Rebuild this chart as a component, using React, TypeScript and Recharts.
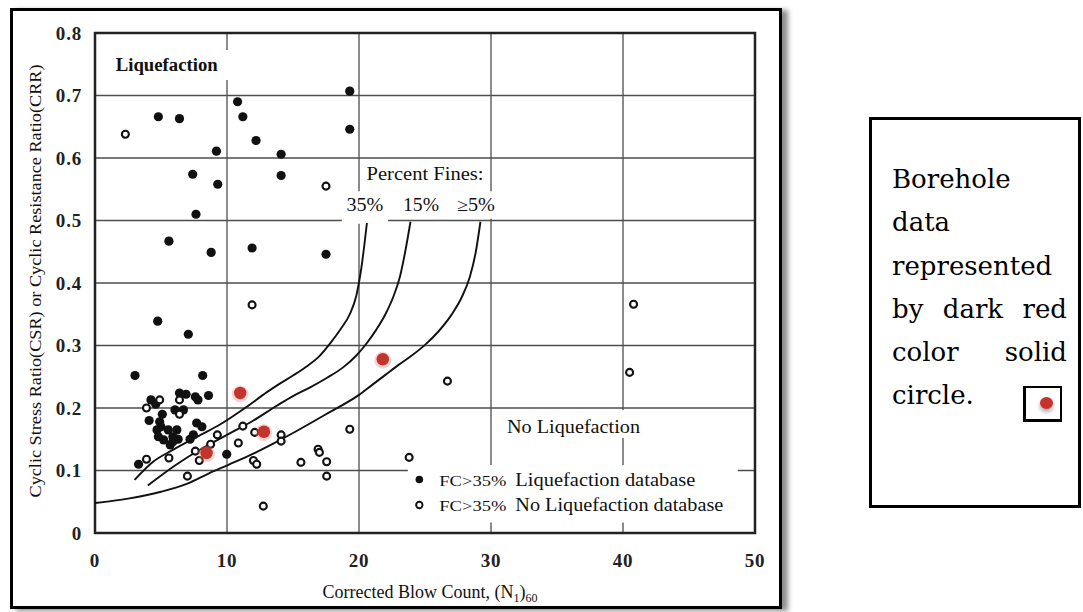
import React from "react"
import {
  ComposedChart,
  CartesianGrid,
  XAxis,
  YAxis,
  Line,
  Scatter,
  ReferenceArea,
  ReferenceDot,
} from "recharts"

// tick labels
const xTicks = [0, 10, 20, 30, 40, 50]
const yTicks = [0, 0.1, 0.2, 0.3, 0.4, 0.5, 0.6, 0.7, 0.8]

// FC>35% liquefaction database (solid black)
const liquefied = [
  { x: 4.8, y: 0.666 }, { x: 6.4, y: 0.663 }, { x: 9.2, y: 0.611 }, { x: 7.4, y: 0.574 },
  { x: 9.3, y: 0.558 }, { x: 7.65, y: 0.51 }, { x: 5.6, y: 0.467 }, { x: 8.8, y: 0.449 },
  { x: 10.8, y: 0.69 }, { x: 11.2, y: 0.666 }, { x: 12.2, y: 0.628 }, { x: 14.1, y: 0.606 },
  { x: 14.1, y: 0.572 }, { x: 11.9, y: 0.456 }, { x: 17.5, y: 0.446 }, { x: 19.3, y: 0.707 },
  { x: 19.3, y: 0.646 }, { x: 4.75, y: 0.339 }, { x: 7.07, y: 0.318 }, { x: 3.03, y: 0.252 },
  { x: 8.16, y: 0.252 }, { x: 4.24, y: 0.213 }, { x: 4.6, y: 0.206 }, { x: 6.4, y: 0.224 },
  { x: 6.9, y: 0.222 }, { x: 7.6, y: 0.218 }, { x: 8.6, y: 0.22 }, { x: 7.8, y: 0.213 },
  { x: 6.06, y: 0.197 }, { x: 6.7, y: 0.197 }, { x: 5.1, y: 0.19 }, { x: 4.1, y: 0.18 },
  { x: 4.9, y: 0.178 }, { x: 7.7, y: 0.176 }, { x: 8.1, y: 0.17 }, { x: 5.0, y: 0.17 },
  { x: 4.7, y: 0.165 }, { x: 5.55, y: 0.165 }, { x: 6.2, y: 0.165 }, { x: 7.45, y: 0.157 },
  { x: 4.8, y: 0.154 }, { x: 5.9, y: 0.154 }, { x: 5.2, y: 0.149 }, { x: 6.3, y: 0.15 },
  { x: 7.2, y: 0.15 }, { x: 5.7, y: 0.141 }, { x: 5.9, y: 0.146 }, { x: 3.3, y: 0.11 },
  { x: 9.98, y: 0.126 },
]

// FC>35% no liquefaction database (open circles)
const nonLiquefied = [
  { x: 2.3, y: 0.638 }, { x: 17.5, y: 0.555 }, { x: 11.9, y: 0.365 }, { x: 40.8, y: 0.366 },
  { x: 40.5, y: 0.257 }, { x: 26.7, y: 0.243 }, { x: 23.8, y: 0.121 }, { x: 19.3, y: 0.166 },
  { x: 14.1, y: 0.157 }, { x: 14.1, y: 0.147 }, { x: 16.9, y: 0.134 }, { x: 17.0, y: 0.129 },
  { x: 15.6, y: 0.113 }, { x: 17.55, y: 0.114 }, { x: 17.55, y: 0.091 }, { x: 12.75, y: 0.043 },
  { x: 12.0, y: 0.116 }, { x: 12.25, y: 0.11 }, { x: 12.1, y: 0.161 }, { x: 10.86, y: 0.144 },
  { x: 11.2, y: 0.171 }, { x: 9.27, y: 0.157 }, { x: 8.76, y: 0.142 }, { x: 7.9, y: 0.116 },
  { x: 7.6, y: 0.131 }, { x: 7.0, y: 0.091 }, { x: 5.6, y: 0.12 }, { x: 3.9, y: 0.118 },
  { x: 3.9, y: 0.2 }, { x: 4.9, y: 0.213 }, { x: 6.4, y: 0.213 }, { x: 6.4, y: 0.19 },
]

// borehole data (dark red)
const borehole = [
  { x: 11.0, y: 0.224 }, { x: 12.8, y: 0.162 }, { x: 8.45, y: 0.128 }, { x: 21.8, y: 0.278 },
]

// CRR curves for percent fines
const curve35 = [
  { x: 3.0, y: 0.085 }, { x: 4.4, y: 0.114 }, { x: 5.9, y: 0.133 }, { x: 8.0, y: 0.157 },
  { x: 9.5, y: 0.174 }, { x: 11.5, y: 0.202 }, { x: 13.0, y: 0.225 }, { x: 14.0, y: 0.239 },
  { x: 15.0, y: 0.252 }, { x: 16.0, y: 0.266 }, { x: 17.0, y: 0.283 }, { x: 17.8, y: 0.303 },
  { x: 18.6, y: 0.326 }, { x: 19.3, y: 0.35 }, { x: 19.8, y: 0.38 }, { x: 20.15, y: 0.42 },
  { x: 20.4, y: 0.46 }, { x: 20.6, y: 0.496 },
]
const curve15 = [
  { x: 4.0, y: 0.076 }, { x: 6.2, y: 0.11 }, { x: 8.0, y: 0.134 }, { x: 10.0, y: 0.157 },
  { x: 12.0, y: 0.18 }, { x: 13.8, y: 0.204 }, { x: 15.0, y: 0.219 }, { x: 16.3, y: 0.233 },
  { x: 17.55, y: 0.248 }, { x: 18.8, y: 0.265 }, { x: 19.8, y: 0.284 }, { x: 20.6, y: 0.304 },
  { x: 21.3, y: 0.325 }, { x: 22.0, y: 0.35 }, { x: 22.6, y: 0.378 }, { x: 23.1, y: 0.41 },
  { x: 23.5, y: 0.45 }, { x: 23.9, y: 0.498 },
]
const curve5 = [
  { x: 0, y: 0.048 }, { x: 2.5, y: 0.055 }, { x: 5.0, y: 0.066 }, { x: 7.0, y: 0.079 },
  { x: 8.6, y: 0.095 }, { x: 10.1, y: 0.109 }, { x: 12.0, y: 0.127 }, { x: 13.5, y: 0.143 },
  { x: 15.0, y: 0.16 }, { x: 17.5, y: 0.19 }, { x: 20.0, y: 0.221 }, { x: 21.0, y: 0.237 },
  { x: 22.0, y: 0.253 }, { x: 23.0, y: 0.269 }, { x: 24.0, y: 0.284 }, { x: 25.0, y: 0.301 },
  { x: 26.0, y: 0.322 }, { x: 27.0, y: 0.349 }, { x: 27.8, y: 0.378 }, { x: 28.4, y: 0.41 },
  { x: 28.85, y: 0.45 }, { x: 29.2, y: 0.498 },
]

const serif = "'Liberation Serif', 'Times New Roman', serif"

const Txt = ({ x, y, children, size = 18, w, anchor = "middle", weight = "normal" }: any) => (
  <text
    x={x}
    y={y}
    fontSize={size}
    fontFamily={serif}
    fontWeight={weight}
    fill="#111"
    textAnchor={anchor}
    dominantBaseline="central"
    textLength={w}
    lengthAdjust="spacingAndGlyphs"
  >
    {children}
  </text>
)

const solidDot = (p: any) => <circle cx={p.cx} cy={p.cy} r={4.6} fill="#111" />
const openDot = (p: any) => (
  <circle cx={p.cx} cy={p.cy} r={3.5} fill="#fff" stroke="#111" strokeWidth={2.1} />
)
const redDot = (p: any) => (
  <g>
    <circle cx={p.cx} cy={p.cy + 1} r={8.5} fill="#d98a86" opacity={0.35} />
    <circle cx={p.cx} cy={p.cy} r={6.2} fill="#c5332d" />
  </g>
)

const YTitle = (props: any) => {
  const vb = props.viewBox
  const cx = vb.x
  const cy = vb.y + vb.height / 2 - 2
  return (
    <text
      x={cx}
      y={cy}
      transform={`rotate(-90 ${cx} ${cy})`}
      textAnchor="middle"
      dominantBaseline="central"
      fontSize={17}
      fontFamily={serif}
      fill="#111"
      textLength={433}
      lengthAdjust="spacingAndGlyphs"
    >
      Cyclic Stress Ratio(CSR) or Cyclic Resistance Ratio(CRR)
    </text>
  )
}

const XTitle = (props: any) => {
  const vb = props.viewBox
  return (
    <text
      x={vb.x + vb.width / 2 + 5}
      y={vb.y + 65}
      textAnchor="middle"
      fontSize={18}
      fontFamily={serif}
      fill="#111"
    >
      Corrected Blow Count, (N
      <tspan fontSize={12} dy={4}>1</tspan>
      <tspan dy={-4}>)</tspan>
      <tspan fontSize={12} dy={4}>60</tspan>
    </text>
  )
}

const note = (key: string, x: number, y: number, draw: (cx: number, cy: number) => any) => (
  <ReferenceDot
    key={key}
    x={x}
    y={y}
    r={0}
    ifOverflow="visible"
    shape={(p: any) => draw(p.cx, p.cy)}
  />
)

const tickStyle = {
  fontSize: 19,
  fontWeight: "bold",
  fill: "#222",
  fontFamily: serif,
  letterSpacing: 0.8,
}

export default function App() {
  return (
    <div
      style={{
        position: "absolute",
        left: 0,
        top: 0,
        width: 1083,
        height: 612,
        background: "#fff",
        overflow: "hidden",
        fontFamily: serif,
      }}
    >
      <div
        style={{
          position: "absolute",
          left: 10,
          top: 8,
          width: 772,
          height: 601,
          border: "3px solid #000",
          boxSizing: "border-box",
          boxShadow: "6px 2px 5px rgba(0,0,0,0.45)",
        }}
      />
      <div style={{ position: "absolute", left: 0, top: 0 }}>
        <ComposedChart
          width={1083}
          height={612}
          margin={{ top: 33, right: 328, bottom: 39, left: 35 }}
        >
          <CartesianGrid stroke="#4d4d4d" strokeWidth={1.3} />
          <XAxis
            type="number"
            dataKey="x"
            domain={[0, 50]}
            ticks={xTicks}
            allowDataOverflow
            height={40}
            tickSize={0}
            tickMargin={21}
            axisLine={false}
            tickLine={false}
            tick={tickStyle}
            label={{ content: (p: any) => <XTitle {...p} /> }}
          />
          <YAxis
            type="number"
            dataKey="y"
            domain={[0, 0.8]}
            ticks={yTicks}
            allowDataOverflow
            width={60}
            tickSize={0}
            tickMargin={13}
            axisLine={false}
            tickLine={false}
            tick={tickStyle}
            tickFormatter={(v: number) => (v === 0 ? "0" : v.toFixed(1))}
            label={{ content: (p: any) => <YTitle {...p} /> }}
          />

          {/* white backgrounds behind the annotations */}
          <ReferenceArea x1={1} x2={10.5} y1={0.725} y2={0.773} fill="#fff" fillOpacity={1} stroke="none" />
          <ReferenceArea x1={18.7} x2={30.2} y1={0.503} y2={0.547} fill="#fff" fillOpacity={1} stroke="none" />
          <ReferenceArea x1={18.7} x2={22.2} y1={0.495} y2={0.504} fill="#fff" fillOpacity={1} stroke="none" />
          <ReferenceArea x1={31} x2={41.5} y1={0.152} y2={0.197} fill="#fff" fillOpacity={1} stroke="none" />
          <ReferenceArea x1={23.7} x2={48.7} y1={0.017} y2={0.109} fill="#fff" fillOpacity={1} stroke="none" />
          <ReferenceArea x1={0} x2={50} y1={0} y2={0.8} fill="none" stroke="#222" strokeWidth={2.5} />

          <Line data={curve35} dataKey="y" type="monotone" stroke="#111" strokeWidth={1.9} dot={false} isAnimationActive={false} />
          <Line data={curve15} dataKey="y" type="monotone" stroke="#111" strokeWidth={1.9} dot={false} isAnimationActive={false} />
          <Line data={curve5} dataKey="y" type="monotone" stroke="#111" strokeWidth={1.9} dot={false} isAnimationActive={false} />

          <Scatter data={liquefied} shape={solidDot} isAnimationActive={false} />
          <Scatter data={nonLiquefied} shape={openDot} isAnimationActive={false} />
          <Scatter data={borehole} shape={redDot} isAnimationActive={false} />

          {note("liq", 1.57, 0.749, (cx, cy) => (
            <Txt x={cx} y={cy} anchor="start" weight="bold" w={102}>Liquefaction</Txt>
          ))}
          {note("pf", 25.0, 0.574, (cx, cy) => (
            <Txt x={cx} y={cy} w={117}>Percent Fines:</Txt>
          ))}
          {note("p35", 20.45, 0.525, (cx, cy) => <Txt x={cx} y={cy} w={37}>35%</Txt>)}
          {note("p15", 24.7, 0.525, (cx, cy) => <Txt x={cx} y={cy} w={36}>15%</Txt>)}
          {note("p5", 28.86, 0.525, (cx, cy) => <Txt x={cx} y={cy} w={38}>≥5%</Txt>)}
          {note("noliq", 36.25, 0.17, (cx, cy) => (
            <Txt x={cx} y={cy} w={133}>No Liquefaction</Txt>
          ))}
          {note("leg1", 24.57, 0.0856, (cx, cy) => (
            <g>
              <circle cx={cx} cy={cy} r={3.8} fill="#111" />
              <Txt x={cx + 20} y={cy + 1} anchor="start" size={15} w={67}>FC&gt;35%</Txt>
              <Txt x={cx + 96} y={cy} anchor="start" w={180}>Liquefaction database</Txt>
            </g>
          ))}
          {note("leg2", 24.57, 0.0448, (cx, cy) => (
            <g>
              <circle cx={cx} cy={cy} r={3.2} fill="#fff" stroke="#111" strokeWidth={1.9} />
              <Txt x={cx + 20} y={cy + 1} anchor="start" size={15} w={67}>FC&gt;35%</Txt>
              <Txt x={cx + 96} y={cy} anchor="start" w={208}>No Liquefaction database</Txt>
            </g>
          ))}
        </ComposedChart>
      </div>

      <div
        style={{
          position: "absolute",
          left: 869,
          top: 117,
          width: 212,
          height: 391,
          border: "3px solid #000",
          boxSizing: "border-box",
          paddingLeft: 20,
          paddingTop: 38,
          fontFamily: "'DejaVu Serif', serif",
          fontSize: 26,
          lineHeight: "43.3px",
          color: "#000",
        }}
      >
        <div style={{ width: 175 }}>Borehole</div>
        <div style={{ width: 175 }}>data</div>
        <div style={{ width: 175 }}>represented</div>
        <div style={{ width: 175, display: "flex", justifyContent: "space-between" }}>
          <span>by</span>
          <span>dark</span>
          <span>red</span>
        </div>
        <div style={{ width: 175, display: "flex", justifyContent: "space-between" }}>
          <span>color</span>
          <span>solid</span>
        </div>
        <div style={{ width: 175 }}>circle.</div>
      </div>
      <div
        style={{
          position: "absolute",
          left: 1023,
          top: 386,
          width: 39,
          height: 36,
          border: "2px solid #000",
          borderLeftWidth: 3,
          borderBottomWidth: 3,
          boxSizing: "border-box",
        }}
      >
        <div
          style={{
            position: "absolute",
            left: 14,
            top: 9,
            width: 13,
            height: 12,
            borderRadius: "50%",
            background: "#c5332d",
            boxShadow: "0 3px 4px rgba(0,0,0,0.35)",
          }}
        />
      </div>
    </div>
  )
}
